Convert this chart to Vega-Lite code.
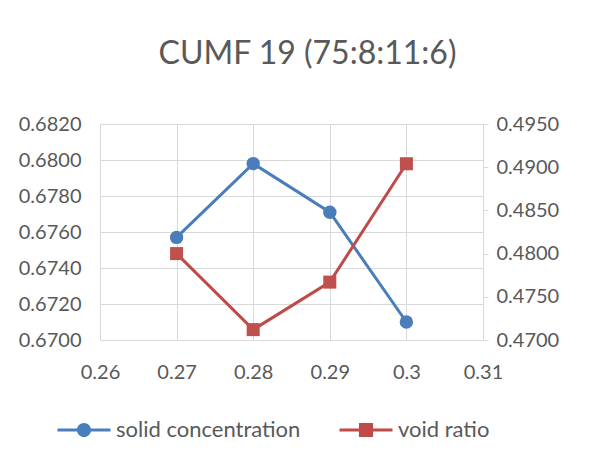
{
  "$schema": "https://vega.github.io/schema/vega-lite/v6.json",
  "width": 383,
  "height": 216,
  "autosize": {"type": "none"},
  "padding": {"left": 100, "top": 124, "right": 120, "bottom": 116},
  "background": "white",
  "title": {
    "text": "CUMF 19 (75:8:11:6)",
    "font": "Lato",
    "fontSize": 32,
    "fontWeight": "normal",
    "color": "#595959",
    "anchor": "middle",
    "frame": "group",
    "baseline": "alphabetic",
    "offset": 18,
    "dx": 16
  },
  "data": {
    "values": [
      {"x": 0.27, "series": "solid concentration", "value": 0.6757},
      {"x": 0.28, "series": "solid concentration", "value": 0.6798},
      {"x": 0.29, "series": "solid concentration", "value": 0.6771},
      {"x": 0.3, "series": "solid concentration", "value": 0.671},
      {"x": 0.27, "series": "void ratio", "value": 0.48},
      {"x": 0.28, "series": "void ratio", "value": 0.4712},
      {"x": 0.29, "series": "void ratio", "value": 0.4767},
      {"x": 0.3, "series": "void ratio", "value": 0.4904}
    ]
  },
  "encoding": {
    "x": {
      "field": "x",
      "type": "quantitative",
      "scale": {"domain": [0.26, 0.31], "nice": false, "zero": false},
      "axis": {
        "title": null,
        "values": [0.26, 0.27, 0.28, 0.29, 0.3, 0.31],
        "format": "~g",
        "grid": true,
        "ticks": false,
        "labelFlush": false,
        "labelPadding": 22
      }
    }
  },
  "layer": [
    {
      "encoding": {
        "y": {
          "field": "value",
          "type": "quantitative",
          "scale": {"domain": [0.67, 0.682], "nice": false, "zero": false},
          "axis": {
            "orient": "left",
            "title": null,
            "values": [0.67, 0.672, 0.674, 0.676, 0.678, 0.68, 0.682],
            "format": ".4f",
            "grid": true,
            "ticks": false,
            "domain": false,
            "labelPadding": 19
          }
        }
      },
      "layer": [
        {
          "transform": [{"filter": "datum.series === 'solid concentration'"}],
          "mark": {"type": "line", "color": "#4A7EBB", "strokeWidth": 3}
        },
        {
          "transform": [{"filter": "datum.series === 'solid concentration'"}],
          "mark": {"type": "point", "shape": "circle", "filled": true, "opacity": 1, "color": "#4A7EBB", "size": 180}
        },
        {
          "mark": {"type": "point", "filled": true, "opacity": 0, "clip": true},
          "encoding": {
            "color": {
              "field": "series",
              "type": "nominal",
              "scale": {"domain": ["solid concentration", "void ratio"], "range": ["#4A7EBB", "#BE4B48"]},
              "legend": {
                "title": null,
                "orient": "none",
                "legendX": -34,
                "legendY": 288,
                "direction": "horizontal",
                "padding": 0,
                "labelFont": "Lato",
                "labelFontSize": 22,
                "labelColor": "#595959",
                "labelOffset": 14,
                "columnPadding": 38,
                "symbolSize": 1250,
                "symbolStrokeWidth": 0,
                "symbolOpacity": 1,
                "labelLimit": 400
              }
            },
            "shape": {
              "field": "series",
              "type": "nominal",
              "scale": {
                "domain": ["solid concentration", "void ratio"],
                "range": [
                  "M-1.5,-0.085H-0.392V0.085H-1.5Z M0.392,-0.085H1.5V0.085H0.392Z M0.4,0A0.4,0.4,0,1,1,-0.4,0A0.4,0.4,0,1,1,0.4,0Z",
                  "M-1.5,-0.085H-0.4V0.085H-1.5Z M-0.4,-0.4H0.4V0.4H-0.4Z M0.4,-0.085H1.5V0.085H0.4Z"
                ]
              },
              "legend": {
                "title": null,
                "orient": "none",
                "legendX": -34,
                "legendY": 288,
                "direction": "horizontal",
                "padding": 0,
                "labelFont": "Lato",
                "labelFontSize": 22,
                "labelColor": "#595959",
                "labelOffset": 14,
                "columnPadding": 38,
                "symbolSize": 1250,
                "symbolStrokeWidth": 0,
                "symbolOpacity": 1,
                "labelLimit": 400
              }
            }
          }
        }
      ]
    },
    {
      "encoding": {
        "y": {
          "field": "value",
          "type": "quantitative",
          "scale": {"domain": [0.47, 0.495], "nice": false, "zero": false},
          "axis": {
            "orient": "right",
            "title": null,
            "values": [0.47, 0.475, 0.48, 0.485, 0.49, 0.495],
            "format": ".4f",
            "grid": false,
            "ticks": true,
            "tickSize": 5,
            "domain": false,
            "labelPadding": 8
          }
        }
      },
      "layer": [
        {
          "transform": [{"filter": "datum.series === 'void ratio'"}],
          "mark": {"type": "line", "color": "#BE4B48", "strokeWidth": 3}
        },
        {
          "transform": [{"filter": "datum.series === 'void ratio'"}],
          "mark": {"type": "point", "shape": "square", "filled": true, "opacity": 1, "color": "#C0504D", "size": 170}
        }
      ]
    }
  ],
  "resolve": {"scale": {"y": "independent"}},
  "config": {
    "font": "Lato",
    "view": {"stroke": null},
    "axis": {
      "labelFont": "Lato",
      "labelFontSize": 20,
      "labelColor": "#595959",
      "gridColor": "#D9D9D9",
      "gridWidth": 1,
      "domainColor": "#D9D9D9",
      "domainWidth": 1,
      "tickColor": "#D9D9D9",
      "tickWidth": 1
    }
  }
}
